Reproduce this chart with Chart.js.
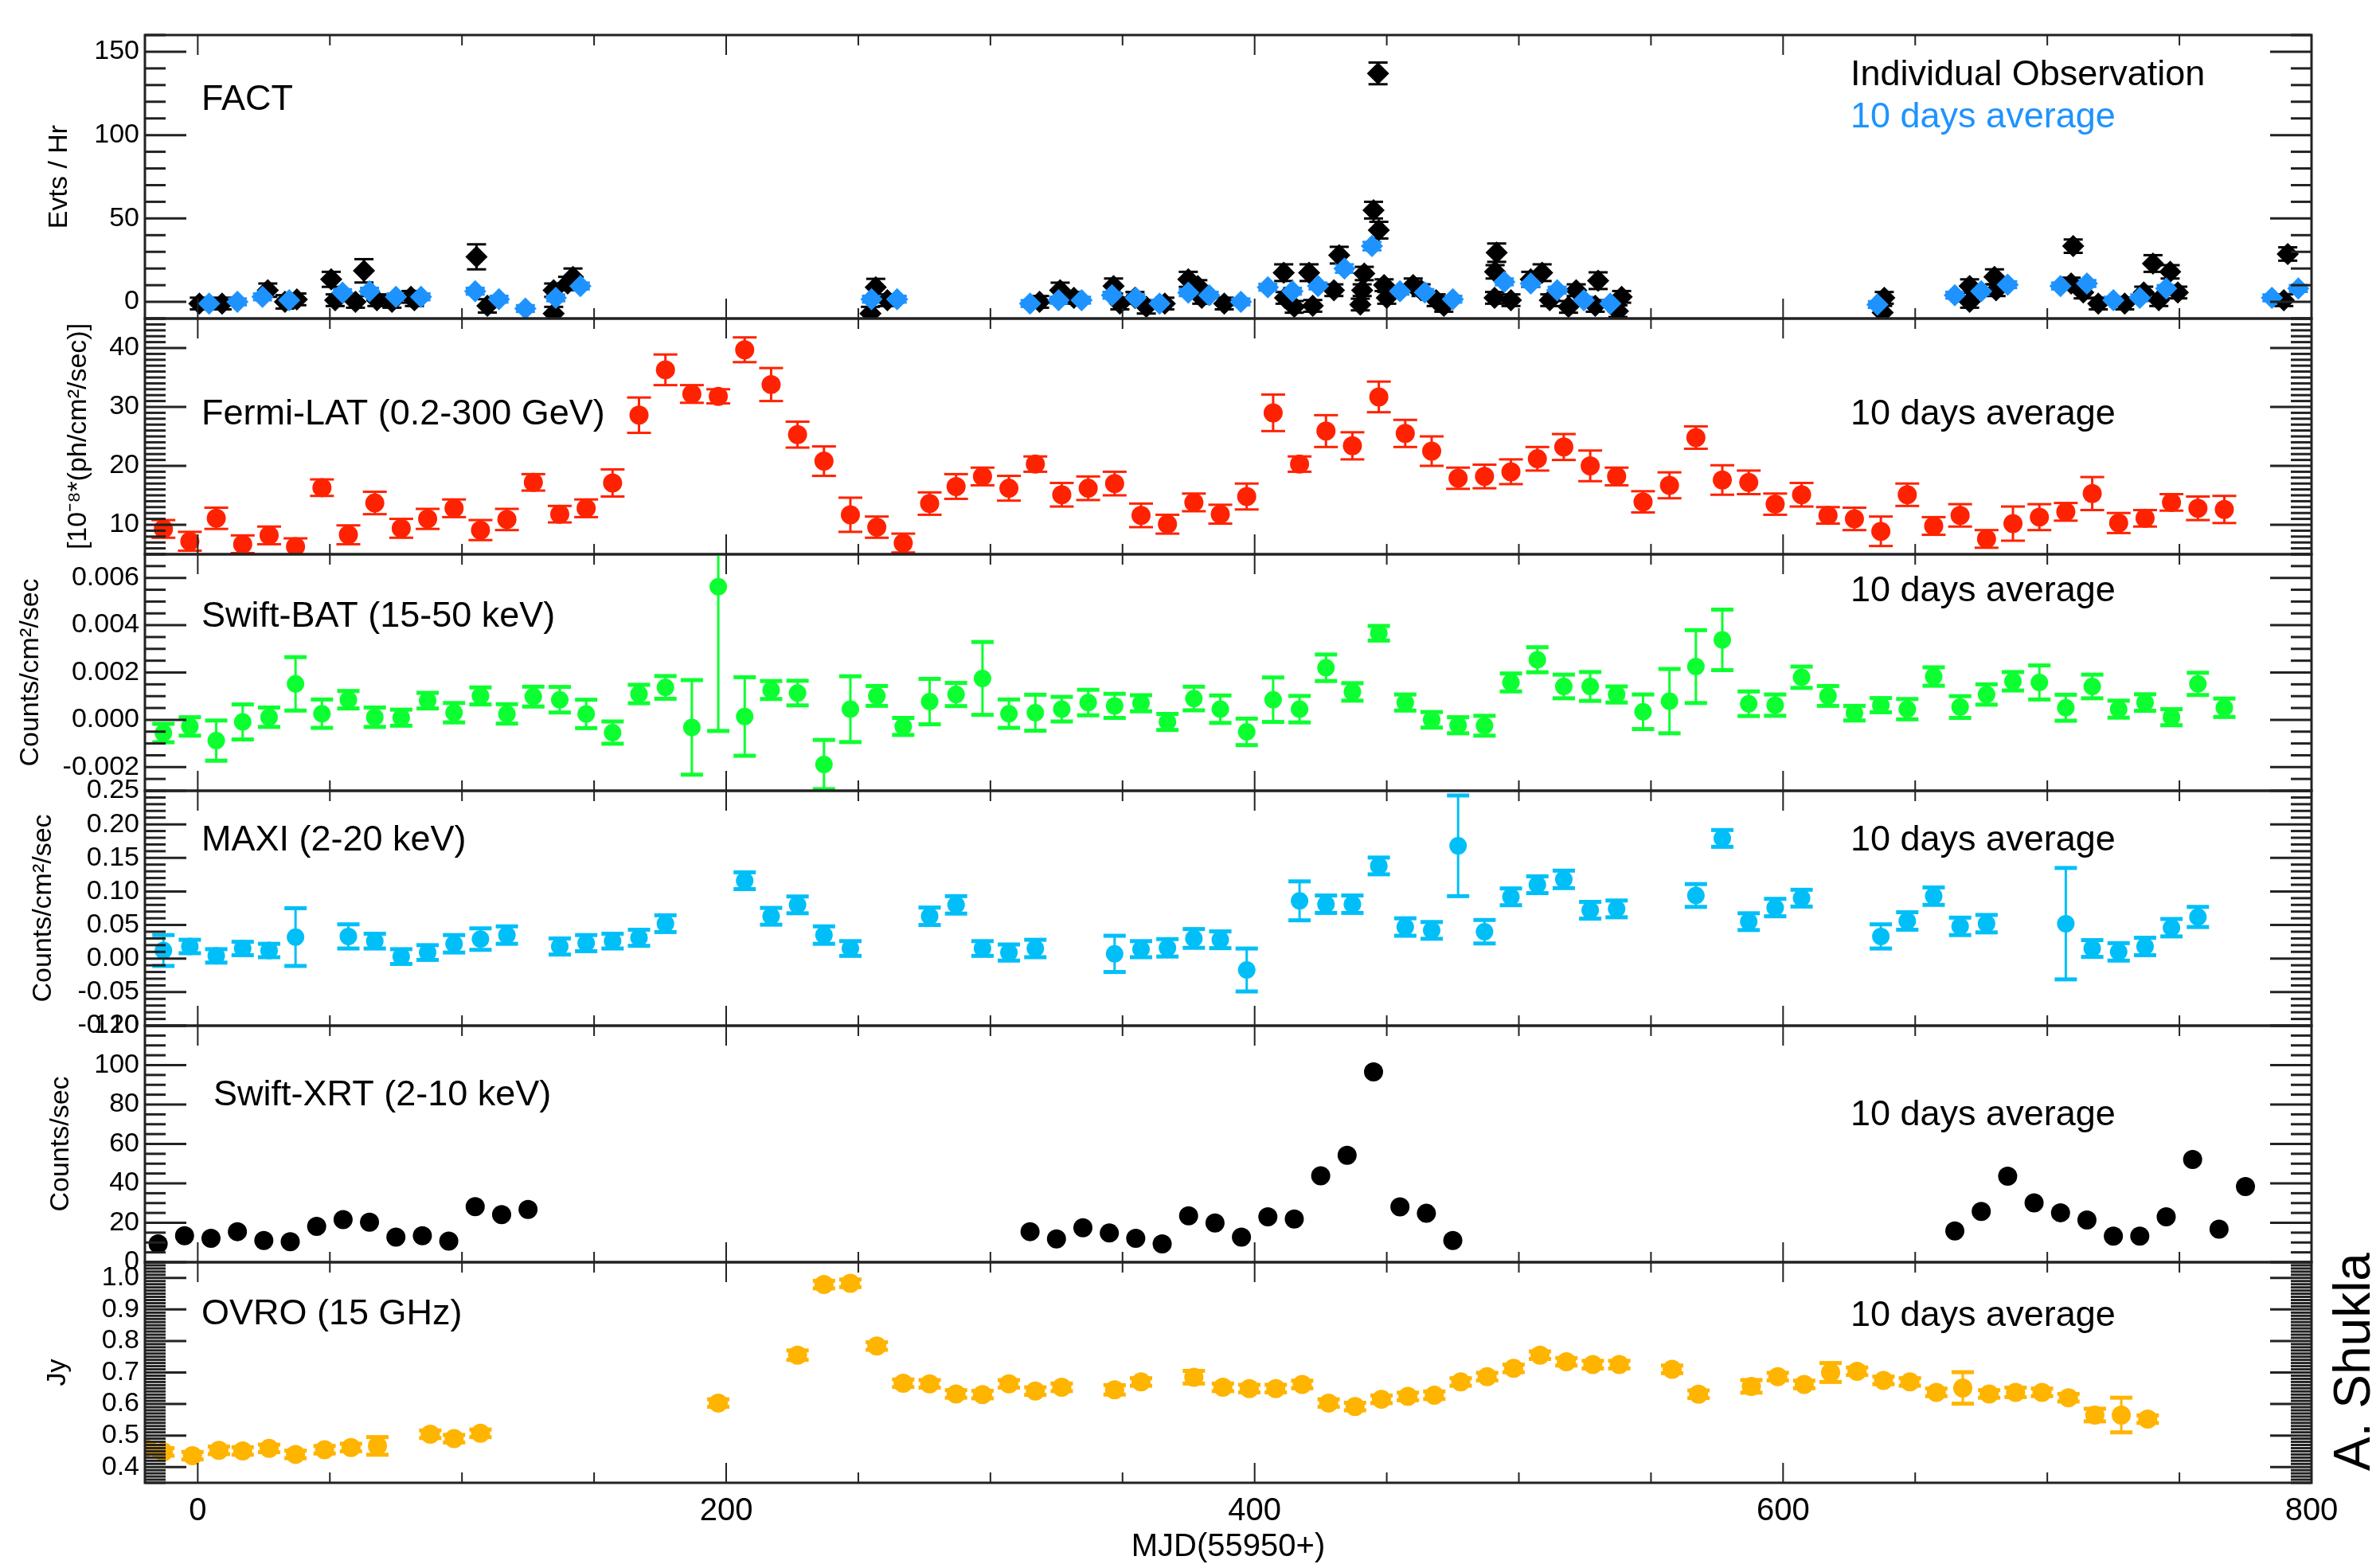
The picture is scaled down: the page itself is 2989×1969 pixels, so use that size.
<!DOCTYPE html>
<html lang="en">

<head>
    <meta charset="UTF-8">
    <title>Multi-wavelength light curves</title>
    <script src="https://cdn.jsdelivr.net/npm/chart.js"></script>
    <style>
        body {
            margin: 0;
            background: #fff;
        }

        #page {
            position: relative;
            width: 2989px;
            height: 1969px;
            background: #fff;
            overflow: hidden;
        }

        #page canvas {
            position: absolute;
            left: 0;
        }
    </style>
</head>

<body>
    <div id="page"></div>

    <script>
        // ---- data (x = MJD - 55950) ----

        // FACT individual observations (Evts / Hr)
        const factX = [0.6, 9.2, 26.5, 33, 37.5, 50.5, 52, 59.7, 62.9, 67.8, 73.5, 80.7, 82, 105.5, 109.6, 134.7, 134.7, 140, 142, 254.6,
            256.6, 261, 318.6, 326.4, 331.6, 346.6, 349, 354.7, 359, 366, 374.9, 378.5, 380, 388.5, 411, 411.5, 415, 420.6, 422, 430,
            432, 440, 441.5, 440.7, 445, 447, 446.7, 449, 450, 460, 463, 468.7, 471.6, 491.6, 491, 490.8, 497, 504.5, 508.8, 511.7,
            518.8, 521.7, 528.9, 530, 537.5, 538.9, 638.3, 637.7, 670.6, 670.6, 680, 680.6, 709.8, 709, 713.6, 719.3, 729.3, 736.5, 740, 742.2,
            746.5, 749.4, 789.5, 791];
        const factY = [-1, -1, 7, 0, 1.5, 13.5, 1, 0, 18.6, 1, 0, 3, 1, 27, -2.4, -7, 7, 11, 15, -7,
            8.8, 1, 0, 7, 2.4, 9.5, -1, 2.4, -3, -1, 13.5, 9.5, 2.4, -1, 17.5, 2.4, -3, 17.5, -2.4, 7,
            28, -1.6, 17, 7, 55, 43, 137, 10, 2.4, 10, 7, 1, -2.4, 29.5, 18, 2.4, 1, 13.5, 17.5, 1,
            -3, 7, -2.4, 12.7, -5.6, 3, 2.4, -6.4, 0, 9.5, 15, 7, 33.4, 11, 5.6, -1, -1, 5.6, 23, 1,
            18, 5.6, 1, 28.7];
        const factErr = [3.5, 3.5, 4, 4, 3.5, 4.5, 3.5, 3.5, 7, 3.5, 3.5, 3.5, 3.5, 7.5, 4, 4, 4, 4, 5, 4,
            5, 3.5, 3.5, 4.5, 3.5, 4.5, 3.5, 3.5, 4, 3.5, 4.5, 3.5, 3.5, 3.5, 5, 3.5, 3.5, 5, 3.5, 3.5,
            5, 3.5, 4, 3.5, 5, 5, 6.5, 3.5, 3.5, 4, 3.5, 3.5, 3.5, 5.5, 4, 3.5, 3.5, 4.5, 5, 3.5,
            3.5, 3.5, 3.5, 5, 3.5, 3.5, 3.5, 4, 3.5, 4, 4.5, 3.5, 4, 3.5, 3.5, 3.5, 3.5, 3.5, 5, 3.5,
            4, 3.5, 3.5, 4];

        // FACT 10 days average
        const factAvgX = [4.3, 15, 24.5, 34.6, 54.8, 65, 75, 84.5, 105, 114, 124, 135.5, 144.8, 255, 264.7, 315, 325.8, 334.5, 346, 355,
            364, 374.9, 382.8, 394.8, 405, 414.3, 424, 434, 444.4, 455, 464.4, 475, 494.5, 504.5, 514.5, 524.6, 534.6, 635.7, 665, 675,
            685, 705, 715, 725, 735, 745, 785, 795];
        const factAvgY = [-1, 0, 3, 1, 5.5, 6.4, 3, 3, 6.4, 1.6, -4, 2.4, 9.5, 1.6, 1.6, -1, 1, 1, 4, 2.4,
            -1, 5.5, 4, 0, 8.8, 6.4, 9.5, 20, 33.4, 6.4, 5.6, 1.6, 12, 11, 7, 1, -1, -1.6, 4, 6.4,
            10.3, 9.5, 11, 1, 2.4, 8, 2.4, 8];
        const factAvgErr = [2, 2, 2, 2, 2, 2, 2, 2, 2, 2, 2, 2, 2, 2, 2, 2, 2, 2, 2, 2,
            2, 2, 2, 2, 2, 2, 2, 2.5, 2.5, 2, 2, 2, 2, 2, 2, 2, 2, 2, 2, 2,
            2, 2, 2, 2, 2, 2, 2, 2];

        // Fermi-LAT 0.2-300 GeV, 1e-8 ph/cm2/s
        const fermiX = [-13, -3, 7, 17, 27, 37, 47, 57, 67, 77, 87, 97, 107, 117, 127, 137, 147, 157, 167, 177,
            187, 197, 207, 217, 227, 237, 247, 257, 267, 277, 287, 297, 307, 317, 327, 337, 347, 357, 367, 377,
            387, 397, 407, 417, 427, 437, 447, 457, 467, 477, 487, 497, 507, 517, 527, 537, 547, 557, 567, 577,
            587, 597, 607, 617, 627, 637, 647, 657, 667, 677, 687, 697, 707, 717, 727, 737, 747, 757, 767];
        const fermiY = [9.3, 7.2, 11.1, 6.7, 8.2, 6.3, 16.3, 8.3, 13.7, 9.4, 11.0, 12.8, 9.1, 10.9, 17.2, 11.8, 12.8, 17.1, 28.6, 36.3,
            32.2, 31.8, 39.7, 33.8, 25.3, 20.8, 11.7, 9.6, 6.9, 13.6, 16.5, 18.2, 16.2, 20.3, 15.1, 16.2, 17.0, 11.6, 10.1, 13.8,
            11.8, 14.8, 29.0, 20.3, 25.9, 23.4, 31.7, 25.5, 22.5, 17.9, 18.2, 19.0, 21.2, 23.2, 20.0, 18.2, 13.9, 16.7, 24.8, 17.6,
            17.2, 13.5, 15.1, 11.6, 11.0, 8.9, 15.1, 9.8, 11.6, 7.6, 10.2, 11.3, 12.2, 15.3, 10.3, 11.1, 13.8, 12.8, 12.6];
        const fermiErr = [1.5, 1.6, 1.8, 1.5, 1.5, 1.4, 1.4, 1.6, 1.9, 1.6, 1.7, 1.5, 1.7, 1.8, 1.4, 1.4, 1.5, 2.3, 3.0, 2.6,
            1.5, 1.2, 2.1, 2.8, 2.2, 2.5, 2.9, 1.8, 1.6, 1.9, 2.1, 1.5, 2.1, 1.3, 2.0, 2.0, 2.0, 2.0, 1.6, 1.5,
            1.6, 2.2, 3.1, 1.3, 2.7, 2.3, 2.6, 2.3, 2.5, 1.8, 2.0, 2.1, 2.0, 2.2, 2.6, 1.5, 1.8, 2.2, 1.9, 2.5,
            2.0, 1.8, 2.0, 1.4, 1.9, 2.5, 1.9, 1.5, 1.9, 1.5, 2.9, 2.2, 1.5, 2.8, 1.7, 1.4, 1.4, 2.0, 2.3];

        // Swift-BAT 15-50 keV, counts/cm2/s
        const batX = [-13, -3, 7, 17, 27, 37, 47, 57, 67, 77, 87, 97, 107, 117, 127, 137, 147, 157, 167, 177,
            187, 197, 207, 217, 227, 237, 247, 257, 267, 277, 287, 297, 307, 317, 327, 337, 347, 357, 367, 377,
            387, 397, 407, 417, 427, 437, 447, 457, 467, 477, 487, 497, 507, 517, 527, 537, 547, 557, 567, 577,
            587, 597, 607, 617, 627, 637, 647, 657, 667, 677, 687, 697, 707, 717, 727, 737, 747, 757, 767];
        const batY = [-0.00056, -0.00028, -0.00088, -0.00009, 0.00011, 0.00152, 0.00026, 0.00085, 0.00011, 0.00009,
            0.00081, 0.00030, 0.00101, 0.00025, 0.00098, 0.00085, 0.00025, -0.00054, 0.00109, 0.00137,
            -0.00032, 0.00563, 0.00014, 0.00126, 0.00113, -0.00189, 0.00045, 0.00101, -0.00028, 0.00077,
            0.00107, 0.00175, 0.00026, 0.00030, 0.00045, 0.00073, 0.00059, 0.00070, -0.00009, 0.00090,
            0.00045, -0.00051, 0.00085, 0.00045, 0.00220, 0.00118, 0.00366, 0.00073, 0.00000, -0.00023,
            -0.00025, 0.00158, 0.00254, 0.00141, 0.00141, 0.00107, 0.00034, 0.00079, 0.00225, 0.00338,
            0.00068, 0.00062, 0.00180, 0.00101, 0.00028, 0.00062, 0.00045, 0.00183, 0.00054, 0.00107,
            0.00163, 0.00158, 0.00051, 0.00141, 0.00045, 0.00073, 0.00011, 0.00152, 0.00051];
        const batErr = [0.00039, 0.00039, 0.00085, 0.00074, 0.00041, 0.00113, 0.00060, 0.00037, 0.00041, 0.00034,
            0.00033, 0.00041, 0.00036, 0.00041, 0.00042, 0.00054, 0.00060, 0.00047, 0.00039, 0.00048,
            0.00200, 0.00610, 0.00166, 0.00038, 0.00052, 0.00104, 0.00139, 0.00042, 0.00036, 0.00096,
            0.00049, 0.00154, 0.00060, 0.00076, 0.00052, 0.00054, 0.00051, 0.00034, 0.00034, 0.00050,
            0.00058, 0.00056, 0.00094, 0.00056, 0.00056, 0.00037, 0.00031, 0.00034, 0.00033, 0.00034,
            0.00042, 0.00038, 0.00053, 0.00050, 0.00061, 0.00034, 0.00073, 0.00136, 0.00154, 0.00128,
            0.00052, 0.00045, 0.00045, 0.00042, 0.00031, 0.00030, 0.00043, 0.00039, 0.00046, 0.00043,
            0.00039, 0.00072, 0.00055, 0.00050, 0.00036, 0.00035, 0.00034, 0.00047, 0.00039];

        // MAXI 2-20 keV, counts/cm2/s
        const maxiX = [-13, -3, 7, 17, 27, 37, 57, 67, 77, 87, 97, 107, 117, 137, 147, 157, 167, 177, 207, 217,
            227, 237, 247, 277, 287, 297, 307, 317, 347, 357, 367, 377,
            387, 397, 417, 427, 437, 447, 457, 467, 477, 487, 497, 507, 517, 527, 537, 567, 577, 587,
            597, 607, 637, 647, 657, 667, 677, 707, 717, 727, 737, 747, 757];
        const maxiY = [0.012, 0.018, 0.004, 0.015, 0.012, 0.032, 0.033, 0.026, 0.003, 0.009, 0.022, 0.029, 0.035, 0.018, 0.023, 0.026, 0.031, 0.052, 0.116, 0.063,
            0.080, 0.035, 0.015, 0.063, 0.080, 0.015, 0.009, 0.015, 0.007, 0.014, 0.016, 0.030,
            0.028, -0.017, 0.086, 0.081, 0.081, 0.138, 0.047, 0.042, 0.168, 0.040, 0.092, 0.110, 0.118, 0.072, 0.074, 0.094, 0.179, 0.055,
            0.076, 0.090, 0.033, 0.056, 0.093, 0.048, 0.052, 0.052, 0.015, 0.010, 0.018, 0.046, 0.062];
        const maxiErr = [0.023, 0.010, 0.010, 0.010, 0.010, 0.043, 0.018, 0.011, 0.011, 0.011, 0.013, 0.016, 0.013, 0.012, 0.012, 0.011, 0.012, 0.0125, 0.0125, 0.0125,
            0.0125, 0.013, 0.011, 0.013, 0.013, 0.011, 0.012, 0.013, 0.027, 0.012, 0.013, 0.014,
            0.0125, 0.032, 0.029, 0.013, 0.013, 0.0125, 0.013, 0.0125, 0.075, 0.0175, 0.0125, 0.0125, 0.013, 0.0125, 0.0125, 0.017, 0.0125, 0.0125,
            0.013, 0.0125, 0.018, 0.013, 0.013, 0.013, 0.013, 0.083, 0.0125, 0.013, 0.013, 0.013, 0.015];

        // Swift-XRT 2-10 keV, counts/s
        const xrtX = [-15, -5, 5, 15, 25, 35, 45, 55, 65, 75, 85, 95, 105, 115, 125, 315, 325, 335, 345, 355,
            365, 375, 385, 395, 405, 415, 425, 435, 445, 455, 465, 475, 665, 675, 685, 695, 705, 715, 725, 735,
            745, 755, 765, 775];
        const xrtY = [9.3, 13.4, 12.1, 15.5, 11, 10.4, 18.2, 21.6, 20.3, 12.7, 13.4, 10.7, 28.2, 24.1, 26.8, 15.5, 11.8, 17.5, 14.8, 12.1,
            9.3, 23.5, 19.9, 12.7, 23, 21.9, 43.8, 54.2, 96.6, 28.1, 24.8, 11, 15.9, 25.8, 43.6, 30.1, 25.1, 21.4, 13.2, 13.2,
            23, 52.1, 16.8, 38.4];

        // OVRO 15 GHz, Jy
        const ovroX = [-20, -13, -2, 8, 17, 27, 37, 48, 58, 68, 88, 97, 107, 197, 227, 237, 247, 257, 267, 277,
            287, 297, 307, 317, 327, 347, 357, 377, 388, 398, 408, 418, 428, 438, 448, 458, 468, 478, 488, 498,
            508, 518, 528, 538, 558, 568, 588, 598, 608, 618, 628, 638, 648, 658, 668, 678, 688, 698, 708, 718,
            728, 738];
        const ovroY = [0.46, 0.448, 0.436, 0.453, 0.451, 0.459, 0.44, 0.455, 0.462, 0.467, 0.504, 0.49, 0.507, 0.603, 0.755, 0.979, 0.983, 0.784, 0.666, 0.664,
            0.632, 0.63, 0.664, 0.641, 0.653, 0.645, 0.67, 0.685, 0.653, 0.649, 0.649, 0.662, 0.603, 0.592, 0.615, 0.624, 0.628, 0.67, 0.687, 0.713,
            0.755, 0.734, 0.725, 0.725, 0.71, 0.631, 0.656, 0.687, 0.662, 0.70, 0.704, 0.675, 0.67, 0.637, 0.651, 0.632, 0.637, 0.637, 0.62, 0.565,
            0.565, 0.552];
        const ovroErr = [0.012, 0.012, 0.012, 0.012, 0.012, 0.012, 0.012, 0.012, 0.012, 0.028, 0.012, 0.012, 0.012, 0.012, 0.015, 0.012, 0.012, 0.012, 0.012, 0.012,
            0.012, 0.012, 0.012, 0.012, 0.012, 0.015, 0.012, 0.02, 0.012, 0.012, 0.012, 0.012, 0.012, 0.012, 0.012, 0.012, 0.012, 0.012, 0.012, 0.012,
            0.012, 0.012, 0.012, 0.012, 0.012, 0.012, 0.02, 0.012, 0.012, 0.03, 0.012, 0.012, 0.012, 0.012, 0.05, 0.012, 0.015, 0.012, 0.012, 0.02,
            0.055, 0.012];

        // tick labels
        const factTicks = [0, 50, 100, 150];
        const fermiTicks = [10, 20, 30, 40];
        const batTicks = [-0.002, 0, 0.002, 0.004, 0.006];
        const maxiTicks = [-0.10, -0.05, 0, 0.05, 0.10, 0.15, 0.20, 0.25];
        const xrtTicks = [0, 20, 40, 60, 80, 100, 120];
        const ovroTicks = [0.4, 0.5, 0.6, 0.7, 0.8, 0.9, 1.0];
        const mjdTicks = [0, 200, 400, 600, 800];

        // ---- layout ----
        const FONT = "'Liberation Sans', Arial, Helvetica, sans-serif";
        const W = 2989, H = 1969;
        const PLOT_LEFT = 182, PLOT_RIGHT = 2903;
        const PAD = 40;
        const FACT_BLUE = '#1e93ff';
        const NOTE_X = 2142;   // "10 days average" offset from the left axis

        const panels = [
            {
                top: 44, bottom: 400, min: -10, max: 160, ticks: factTicks, major: 50, minor: 10, digits: 0,
                yTitle: 'Evts / Hr', titlePad: 54,
                notes: [
                    { text: 'FACT', dx: 71, dy: 94, color: '#000' },
                    { text: 'Individual Observation', dx: NOTE_X, dy: 63, color: '#000' },
                    { text: '10 days average', dx: NOTE_X, dy: 116, color: FACT_BLUE }
                ],
                sets: [
                    { x: factAvgX, y: factAvgY, err: factAvgErr, color: FACT_BLUE, style: 'rectRot', r: 14 },
                    { x: factX, y: factY, err: factErr, color: '#000', style: 'rectRot', r: 14 }
                ],
                cap: 12, bar: 3, capW: 3
            },
            {
                top: 400, bottom: 696, min: 5, max: 45, ticks: fermiTicks, major: 10, minor: 1, digits: 0,
                yTitle: '[10\u207B\u2078*(ph/cm\u00B2/sec)]', titlePad: 78,
                notes: [
                    { text: 'Fermi-LAT (0.2-300 GeV)', dx: 71, dy: 133, color: '#000' },
                    { text: '10 days average', dx: NOTE_X, dy: 133, color: '#000' }
                ],
                sets: [{ x: fermiX, y: fermiY, err: fermiErr, color: '#ff2200', style: 'circle', r: 12 }],
                cap: 15, bar: 3, capW: 3
            },
            {
                top: 696, bottom: 993, min: -0.003, max: 0.007, ticks: batTicks, major: 0.002, minor: 0.0005, digits: 3,
                yTitle: 'Counts/cm\u00B2/sec', titlePad: 18,
                notes: [
                    { text: 'Swift-BAT (15-50 keV)', dx: 71, dy: 91, color: '#000' },
                    { text: '10 days average', dx: NOTE_X, dy: 59, color: '#000' }
                ],
                sets: [{ x: batX, y: batY, err: batErr, color: '#0cff30', style: 'circle', r: 11 }],
                cap: 14, bar: 3, capW: 5
            },
            {
                top: 993, bottom: 1288, min: -0.1, max: 0.25, ticks: maxiTicks, major: 0.05, minor: 0.01, digits: 2,
                yTitle: 'Counts/cm\u00B2/sec', titlePad: 34,
                notes: [
                    { text: 'MAXI (2-20 keV)', dx: 71, dy: 75, color: '#000' },
                    { text: '10 days average', dx: NOTE_X, dy: 75, color: '#000' }
                ],
                sets: [{ x: maxiX, y: maxiY, err: maxiErr, color: '#00bff8', style: 'circle', r: 11 }],
                cap: 14, bar: 3, capW: 5
            },
            {
                top: 1288, bottom: 1585, min: 0, max: 120, ticks: xrtTicks, major: 20, minor: 5, digits: 0,
                yTitle: 'Counts/sec', titlePad: 56,
                notes: [
                    { text: 'Swift-XRT (2-10 keV)', dx: 86, dy: 100, color: '#000' },
                    { text: '10 days average', dx: NOTE_X, dy: 125, color: '#000' }
                ],
                sets: [{ x: xrtX, y: xrtY, err: null, color: '#000', style: 'circle', r: 12 }],
                cap: 12, bar: 3, capW: 3
            },
            {
                top: 1585, bottom: 1862, min: 0.35, max: 1.05, ticks: ovroTicks, major: 0.1, minor: 0.01, digits: 1,
                yTitle: 'Jy', titlePad: 52,
                notes: [
                    { text: 'OVRO (15 GHz)', dx: 71, dy: 78, color: '#000' },
                    { text: '10 days average', dx: NOTE_X, dy: 80, color: '#000' }
                ],
                sets: [{ x: ovroX, y: ovroY, err: ovroErr, color: '#ffb400', style: 'circle', r: 12 }],
                cap: 14, bar: 3, capW: 5
            }
        ];

        function line(ctx, x1, y1, x2, y2) {
            ctx.beginPath();
            ctx.moveTo(x1, y1);
            ctx.lineTo(x2, y2);
            ctx.stroke();
        }

        // error bars under the markers, IDL style frame + labels on top
        function framePlugin(p, last, canvasTop) {
            return {
                id: 'frame',
                beforeDatasetsDraw(chart) {
                    const { ctx, chartArea: a, scales: { x, y } } = chart;
                    ctx.save();
                    ctx.beginPath();
                    ctx.rect(a.left, a.top, a.right - a.left, a.bottom - a.top);
                    ctx.clip();
                    for (let s = p.sets.length - 1; s >= 0; s--) {
                        const set = p.sets[s];
                        if (!set.err) continue;
                        ctx.strokeStyle = set.color;
                        set.x.forEach((xv, i) => {
                            const px = x.getPixelForValue(xv);
                            const hi = y.getPixelForValue(set.y[i] + set.err[i]);
                            const lo = y.getPixelForValue(set.y[i] - set.err[i]);
                            ctx.lineWidth = p.bar;
                            line(ctx, px, hi, px, lo);
                            ctx.lineWidth = p.capW;
                            line(ctx, px - p.cap, hi, px + p.cap, hi);
                            line(ctx, px - p.cap, lo, px + p.cap, lo);
                        });
                    }
                    ctx.restore();
                },
                afterDraw(chart) {
                    const { ctx, chartArea: a, scales: { x, y } } = chart;
                    ctx.save();
                    ctx.strokeStyle = '#222';

                    // y ticks, left and right
                    ctx.lineWidth = 3;
                    const k0 = Math.ceil(p.min / p.minor - 1e-6);
                    const k1 = Math.floor(p.max / p.minor + 1e-6);
                    for (let k = k0; k <= k1; k++) {
                        const v = k * p.minor;
                        const r = v / p.major;
                        const len = Math.abs(r - Math.round(r)) < 1e-6 ? 52 : 26;
                        const py = y.getPixelForValue(v);
                        line(ctx, a.left, py, a.left + len, py);
                        line(ctx, a.right, py, a.right - len, py);
                    }

                    // x ticks, top and bottom
                    ctx.lineWidth = 2;
                    for (let v = 0; v <= 800; v += 50) {
                        const len = v % 200 === 0 ? 25 : 13;
                        const px = x.getPixelForValue(v);
                        line(ctx, px, a.top, px, a.top + len);
                        line(ctx, px, a.bottom, px, a.bottom - len);
                    }

                    ctx.lineWidth = 3;
                    ctx.strokeRect(a.left, a.top, a.right - a.left, a.bottom - a.top);

                    // panel labels
                    ctx.font = '45px ' + FONT;
                    ctx.textBaseline = 'alphabetic';
                    ctx.textAlign = 'left';
                    p.notes.forEach(n => {
                        ctx.fillStyle = n.color;
                        ctx.fillText(n.text, a.left + n.dx, a.top + n.dy);
                    });

                    if (last) {
                        ctx.translate(2958, 1710 - canvasTop);
                        ctx.rotate(-Math.PI / 2);
                        ctx.font = '64px ' + FONT;
                        ctx.textAlign = 'center';
                        ctx.textBaseline = 'middle';
                        ctx.fillStyle = '#000';
                        ctx.fillText('A. Shukla', 0, 0);
                    }
                    ctx.restore();
                }
            };
        }

        const page = document.getElementById('page');

        panels.forEach((p, idx) => {
            const last = idx === panels.length - 1;
            const canvasTop = p.top - PAD;
            const bottomSpace = last ? H - p.bottom : PAD;
            const ch = p.bottom - p.top + PAD + bottomSpace;

            const cv = document.createElement('canvas');
            cv.width = W;
            cv.height = ch;
            cv.style.top = canvasTop + 'px';
            cv.style.width = W + 'px';
            cv.style.height = ch + 'px';
            page.appendChild(cv);

            new Chart(cv, {
                type: 'scatter',
                data: {
                    datasets: p.sets.map(s => ({
                        data: s.x.map((xv, i) => ({ x: xv, y: s.y[i] })),
                        pointStyle: s.style,
                        pointRadius: s.r,
                        pointBackgroundColor: s.color,
                        pointBorderWidth: 0,
                        clip: 0
                    }))
                },
                options: {
                    responsive: false,
                    animation: false,
                    devicePixelRatio: 1,
                    layout: { padding: { top: PAD, right: W - PLOT_RIGHT, bottom: 0, left: 0 } },
                    plugins: {
                        legend: { display: false },
                        tooltip: { enabled: false }
                    },
                    scales: {
                        x: {
                            type: 'linear',
                            min: -20,
                            max: 800,
                            afterFit: s => { s.height = bottomSpace; },
                            afterBuildTicks: s => { s.ticks = mjdTicks.map(v => ({ value: v })); },
                            ticks: {
                                display: last,
                                autoSkip: false,
                                maxRotation: 0,
                                padding: 12,
                                color: '#000',
                                font: { family: FONT, size: 40 },
                                callback: v => String(v)
                            },
                            grid: { display: false, drawTicks: false },
                            border: { display: false },
                            title: {
                                display: last,
                                text: 'MJD(55950+)',
                                color: '#000',
                                font: { family: FONT, size: 40 },
                                padding: { top: 0, bottom: 2 }
                            }
                        },
                        y: {
                            type: 'linear',
                            min: p.min,
                            max: p.max,
                            afterFit: s => { s.width = PLOT_LEFT; },
                            afterBuildTicks: s => { s.ticks = p.ticks.map(v => ({ value: v })); },
                            ticks: {
                                autoSkip: false,
                                padding: 7,
                                color: '#000',
                                font: { family: FONT, size: 34 },
                                callback: v => Number(v).toFixed(p.digits)
                            },
                            grid: { display: false, drawTicks: false },
                            border: { display: false },
                            title: {
                                display: true,
                                text: p.yTitle,
                                color: '#000',
                                font: { family: FONT, size: 34 },
                                padding: { top: p.titlePad, bottom: 0 }
                            }
                        }
                    }
                },
                plugins: [framePlugin(p, last, canvasTop)]
            });
        });
    </script>
</body>

</html>
